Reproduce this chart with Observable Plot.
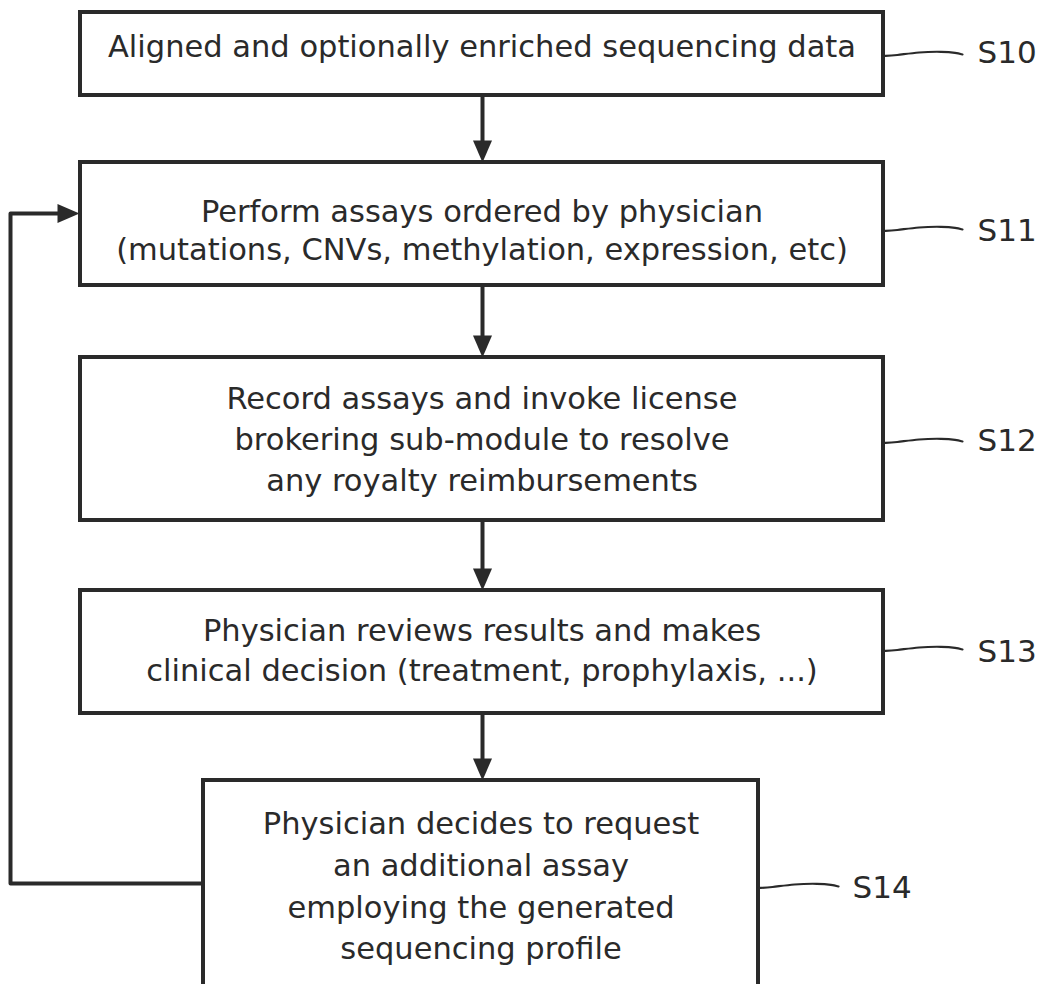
<!DOCTYPE html>
<html>
<head>
<meta charset="utf-8">
<script src="https://cdn.jsdelivr.net/npm/d3@7"></script>
<script src="https://cdn.jsdelivr.net/npm/@observablehq/plot@0.6"></script>
<style>
  html, body { margin: 0; padding: 0; background: #fff; }
  svg { display: block; }
</style>
</head>
<body>
<div id="chart"></div>
<script>
// ---- content ----
const steps = ["S10", "S11", "S12", "S13", "S14"];
const stepLines = [
  ["Aligned and optionally enriched sequencing data"],
  ["Perform assays ordered by physician", "(mutations, CNVs, methylation, expression, etc)"],
  ["Record assays and invoke license", "brokering sub-module to resolve", "any royalty reimbursements"],
  ["Physician reviews results and makes", "clinical decision (treatment, prophylaxis, ...)"],
  ["Physician decides to request", "an additional assay", "employing the generated", "sequencing profile"]
];
// ---- layout (pixels in a 1041 x 984 frame) ----
const boxLeft   = [80, 80, 80, 80, 203];
const boxRight  = [883, 883, 883, 883, 758];
const boxTop    = [12, 162, 357, 590, 780];
const boxBottom = [95, 285, 520, 713, 1010];
const lineBaselines = [
  [56],
  [221, 259],
  [408, 449, 490],
  [640, 680],
  [833, 875, 917, 958]
];
const labelX        = [977, 977, 977, 977, 852];
const labelBaseline = [62, 240, 450, 661, 897];
const leadY         = [53, 228, 440, 648, 885];
const leadEndX      = [962, 962, 962, 962, 838];
const flowX = 482;
const loopX = 10;
const loopFromY = 883;
const loopToY = 213;

const ink = "#2a2a2a";
const font = "'DejaVu Sans', sans-serif";
const textSize = 30.5;
const labelSize = 31;

const boxes = steps.map((s, i) => ({
  s, x1: boxLeft[i], x2: boxRight[i], y1: boxTop[i], y2: boxBottom[i],
  lx: labelX[i], ly: labelBaseline[i], leadY: leadY[i], leadEnd: leadEndX[i]
}));

const textRows = steps.flatMap((s, i) => stepLines[i].map((t, j) => ({
  s, text: t, x: (boxLeft[i] + boxRight[i]) / 2, y: lineBaselines[i][j]
})));

const links = boxes.slice(0, -1).map((b, i) => ({
  x: flowX, y1: b.y2, y2: boxes[i + 1].y1 - 18
}));
const heads = boxes.slice(1).map(b => ({x: flowX, y: b.y1, rotate: 0}));
heads.push({x: boxes[1].x1 - 1, y: loopToY, rotate: -90});

const loop = [
  {x: boxes[4].x1, y: loopFromY},
  {x: loopX, y: loopFromY},
  {x: loopX, y: loopToY},
  {x: boxes[1].x1 - 20, y: loopToY}
];

// lead lines (wavy connectors from box edge to step label)
const leads = boxes.flatMap(b => {
  const x0 = b.x2, y0 = b.leadY, L = b.leadEnd - x0;
  return [[0, 2.5], [0.15, 2], [0.45, -1.5], [0.75, -2], [0.92, -0.8], [1, 1]]
    .map(([f, d]) => ({s: b.s, x: x0 + f * L, y: y0 + d}));
});

const arrowHead = {
  draw(context) {
    context.moveTo(0, 0);
    context.lineTo(-9.5, -22);
    context.lineTo(9.5, -22);
    context.closePath();
  }
};

const chart = Plot.plot({
  width: 1041,
  height: 984,
  margin: 0,
  x: {domain: [0, 1041], range: [0, 1041], axis: null},
  y: {domain: [0, 984], range: [0, 984], axis: null},
  style: {background: "#fff"},
  marks: [
    Plot.line(loop, {x: "x", y: "y", stroke: ink, strokeWidth: 4, curve: "linear"}),
    Plot.link(links, {x1: "x", x2: "x", y1: "y1", y2: "y2", stroke: ink, strokeWidth: 4}),
    Plot.rect(boxes, {x1: "x1", x2: "x2", y1: "y1", y2: "y2", fill: "#fff", stroke: ink, strokeWidth: 4}),
    Plot.dot(heads, {x: "x", y: "y", rotate: "rotate", symbol: arrowHead, fill: ink, stroke: "none", r: 5}),
    Plot.line(leads, {x: "x", y: "y", z: "s", stroke: ink, strokeWidth: 2.2, curve: "basis"}),
    Plot.text(textRows, {
      x: "x", y: "y", text: "text", textAnchor: "middle", lineAnchor: "top",
      dy: -0.71 * textSize, fontSize: textSize, fontFamily: font, fill: ink
    }),
    Plot.text(boxes, {
      x: "lx", y: "ly", text: "s", textAnchor: "start", lineAnchor: "top",
      dy: -0.71 * labelSize, fontSize: labelSize, fontFamily: font, fill: ink
    })
  ]
});
document.getElementById("chart").appendChild(chart);
</script>
</body>
</html>
